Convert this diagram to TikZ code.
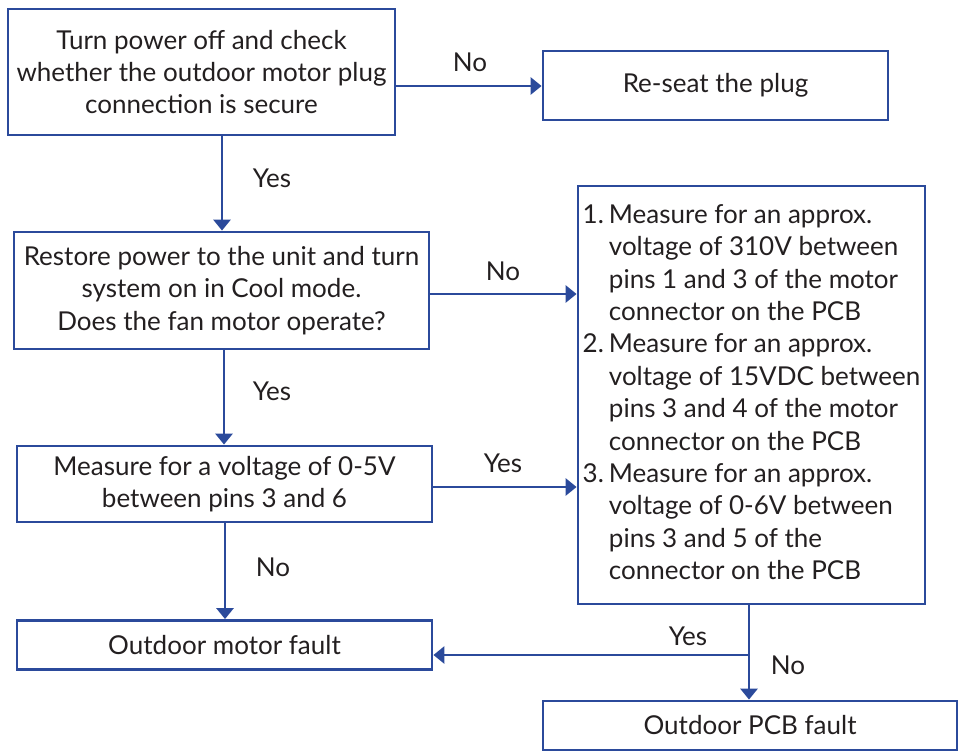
\documentclass[tikz,border=0pt]{standalone}
\usepackage{fontspec}
\setmainfont{Lato}
\usetikzlibrary{arrows.meta}
\definecolor{fcblue}{HTML}{2B4A9B}
\definecolor{fctext}{HTML}{231F20}
\tikzset{
  box/.style={draw=fcblue, line width=2.8pt, text=fctext, align=center, inner sep=0pt, font=\fontsize{26}{32.4}\selectfont},
  lbl/.style={text=fctext, inner sep=0pt, font=\fontsize{26}{32.4}\selectfont},
  conn/.style={draw=fcblue, line width=2.8pt, -{Triangle[length=11pt,width=17pt]}},
  plain/.style={draw=fcblue, line width=2.8pt}
}
\begin{document}
\begin{tikzpicture}[x=1pt,y=-1pt]
\useasboundingbox (0,0) rectangle (959,755);
\node[box, minimum width=387pt, minimum height=126pt] (b1) at (201.5,72)
  {Turn power off and check\\whether the outdoor motor plug\\connection is secure};
\node[box, minimum width=345pt, minimum height=69pt] (reseat) at (715.5,85.5) {Re-seat the plug};
\node[box, minimum width=415pt, minimum height=117pt] (b2) at (221.5,290.5)
  {Restore power to the unit and turn\\system on in Cool mode.\\Does the fan motor operate?};
\node[box, minimum width=347pt, minimum height=418pt] (rb) at (751.5,395)
  {\begin{tabular}{@{}l@{\hspace{5pt}}l@{}}
   1. & Measure for an approx.\\
      & voltage of 310V between\\
      & pins 1 and 3 of the motor\\
      & connector on the PCB\\
   2. & Measure for an approx.\\
      & voltage of 15VDC between\\
      & pins 3 and 4 of the motor\\
      & connector on the PCB\\
   3. & Measure for an approx.\\
      & voltage of 0-6V between\\
      & pins 3 and 5 of the\\
      & connector on the PCB
   \end{tabular}};
\node[box, minimum width=415pt, minimum height=76pt] (b3) at (224.5,484)
  {Measure for a voltage of 0-5V\\between pins 3 and 6};
\node[box, minimum width=415pt, minimum height=49pt] (motor) at (224.5,645) {Outdoor motor fault};
\node[box, minimum width=414pt, minimum height=49pt] (pcb) at (750,725.5) {Outdoor PCB fault};

\draw[conn] (b1.east |- 0,86) -- (reseat.west |- 0,86);
\draw[conn] (b1.south -| 222,0) -- (b2.north -| 222,0);
\draw[conn] (b2.east |- 0,294) -- (rb.west |- 0,294);
\draw[conn] (b2.south -| 224,0) -- (b3.north -| 224,0);
\draw[conn] (b3.east |- 0,487) -- (rb.west |- 0,487);
\draw[conn] (b3.south -| 225,0) -- (motor.north -| 225,0);
\draw[plain] (rb.south -| 749,0) -- (749,655) coordinate (j);
\draw[conn] (j) -- (motor.east |- j);
\draw[conn] (j) -- (pcb.north -| j);

\node[lbl] (l1) at (470,62) {No};
\node[lbl] (l2) at (272,178) {Yes};
\node[lbl] (l3) at (503,271) {No};
\node[lbl] (l4) at (272,391) {Yes};
\node[lbl] (l5) at (503,463) {Yes};
\node[lbl] (l6) at (273,567) {No};
\node[lbl] (l7) at (688,636) {Yes};
\node[lbl] (l8) at (788,665) {No};
\end{tikzpicture}
\end{document}
